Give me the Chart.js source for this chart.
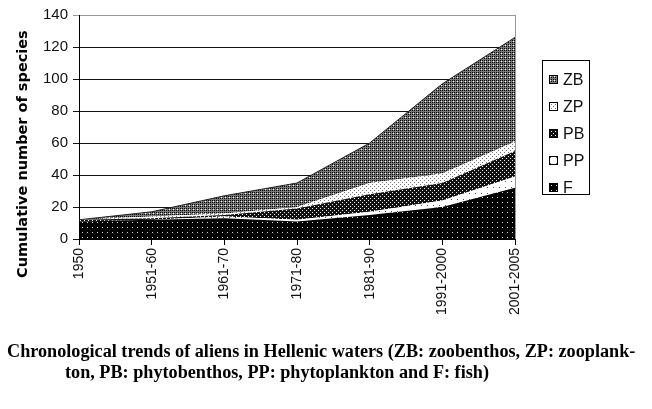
<!DOCTYPE html>
<html>
<head>
<meta charset="utf-8">
<script src="https://cdn.jsdelivr.net/npm/chart.js@4"></script>
<style>
  html, body { margin: 0; padding: 0; background: #fff; }
  #wrap { position: relative; width: 652px; height: 409px; overflow: hidden; }
  #chart { position: absolute; left: 0; top: 0; }
  #ytitle {
    position: absolute; left: 14px; top: 278px;
    font: bold 14.5px "DejaVu Sans", sans-serif; color: #000;
    white-space: nowrap; transform-origin: 0 0; transform: rotate(-90deg);
  }
  #legend {
    position: absolute; left: 542px; top: 60px; width: 48px; height: 135px;
    border: 1px solid #000; box-sizing: border-box; padding-top: 5px;
    font: 16px "Liberation Sans", Arial, sans-serif; color: #111;
  }
  #legend .item { height: 27px; display: flex; align-items: center; padding-left: 6px; }
  #legend canvas { margin-right: 5px; }
  .cap {
    position: absolute; white-space: nowrap; color: #000;
    font: bold 18.2px "Liberation Serif", "Times New Roman", serif;
  }
</style>
</head>
<body>
<div id="wrap">
  <canvas id="chart" width="652" height="409"></canvas>
  <div id="ytitle">Cumulative number of species</div>
  <div id="legend"></div>
  <div class="cap" style="left:7px; top:341px;">Chronological trends of aliens in Hellenic waters (ZB: zoobenthos, ZP: zooplank-</div>
  <div class="cap" style="left:65px; top:362px;">ton, PB: phytobenthos, PP: phytoplankton and F: fish)</div>
</div>
<script>
// data (per-group counts, stacked)
const categories = ['1950', '1951-60', '1961-70', '1971-80', '1981-90', '1991-2000', '2001-2005'];
const seriesNames = ['F', 'PP', 'PB', 'ZP', 'ZB'];
const fValues  = [11, 12, 13, 11, 15, 20, 32];
const ppValues = [0, 0, 1, 1, 2, 4, 7];
const pbValues = [1, 1, 1, 7, 11, 11, 16];
const zpValues = [0, 1, 1, 1, 7, 6, 6];
const zbValues = [0, 3, 11, 15, 25, 56, 65];
const yMax = 140;
const yStep = 20;

// little tiled fills like the old excel patterns
function makePattern(size, bg, dots) {
  const c = document.createElement('canvas');
  c.width = size; c.height = size;
  const g = c.getContext('2d');
  g.fillStyle = bg;
  g.fillRect(0, 0, size, size);
  dots.forEach(d => {
    g.fillStyle = d[2];
    g.fillRect(d[0], d[1], d[3] || 1, d[3] || 1);
  });
  return g.createPattern(c, 'repeat');
}

const fills = {
  F:  makePattern(5, '#000', [[2, 2, '#ddd']]),
  PP: makePattern(6, '#fff', [[1, 1, '#555']]),
  PB: makePattern(4, '#111', [[0, 0, '#eee'], [2, 2, '#eee']]),
  ZP: makePattern(4, '#fff', [[0, 0, '#777'], [2, 2, '#777']]),
  ZB: makePattern(4, '#7a7a7a', [[0, 0, '#000'], [2, 0, '#000'], [0, 2, '#000'], [2, 2, '#000'], [1, 1, '#fff']])
};

const seriesValues = [fValues, ppValues, pbValues, zpValues, zbValues];

const datasets = seriesNames.map((name, i) => ({
  label: name,
  data: seriesValues[i],
  backgroundColor: fills[name],
  borderColor: name === 'ZB' ? '#222' : 'rgba(0,0,0,0)',
  borderWidth: name === 'ZB' ? 1 : 0,
  fill: i === 0 ? 'origin' : '-1',
  pointRadius: 0,
  tension: 0
}));

const frame = {
  id: 'frame',
  afterDraw(chart) {
    const a = chart.chartArea, ctx = chart.ctx;
    ctx.save();
    ctx.strokeStyle = '#999';
    ctx.lineWidth = 1;
    ctx.beginPath();
    ctx.moveTo(Math.round(a.right) + 0.5, a.top);
    ctx.lineTo(Math.round(a.right) + 0.5, a.bottom);
    ctx.stroke();
    ctx.restore();
  }
};

const chart = new Chart(document.getElementById('chart'), {
  type: 'line',
  data: { labels: categories, datasets: datasets },
  options: {
    responsive: false,
    animation: false,
    layout: { padding: { left: 0, top: 15, right: 137, bottom: 0 } },
    plugins: { legend: { display: false }, tooltip: { enabled: false } },
    scales: {
      x: {
        offset: false,
        afterFit: s => { s.height = 170; },
        grid: { drawOnChartArea: false, drawTicks: true, tickLength: 6, color: '#000' },
        border: { color: '#000', width: 1 },
        ticks: {
          autoSkip: false, maxRotation: 90, minRotation: 90, padding: 3,
          color: '#111', font: { family: '"Liberation Sans", Arial, sans-serif', size: 14 }
        }
      },
      y: {
        stacked: true,
        min: 0, max: yMax,
        afterFit: s => { s.width = 79; },
        grid: {
          color: c => (c.tick && c.tick.value === yMax ? '#999' : '#111'),
          lineWidth: 1, tickLength: 6
        },
        border: { color: '#000', width: 1 },
        ticks: {
          stepSize: yStep, padding: 5,
          color: '#111', font: { family: '"Liberation Sans", Arial, sans-serif', size: 15 }
        }
      }
    }
  },
  plugins: [frame]
});

// legend box, top entry first like the original
const legendEl = document.getElementById('legend');
chart.data.datasets.slice().reverse().forEach(ds => {
  const row = document.createElement('div');
  row.className = 'item';
  const sw = document.createElement('canvas');
  sw.width = 9; sw.height = 9;
  const g = sw.getContext('2d');
  g.fillStyle = ds.backgroundColor;
  g.fillRect(0, 0, 9, 9);
  g.strokeStyle = '#000';
  g.strokeRect(0.5, 0.5, 8, 8);
  row.appendChild(sw);
  row.appendChild(document.createTextNode(ds.label));
  legendEl.appendChild(row);
});
</script>
</body>
</html>
